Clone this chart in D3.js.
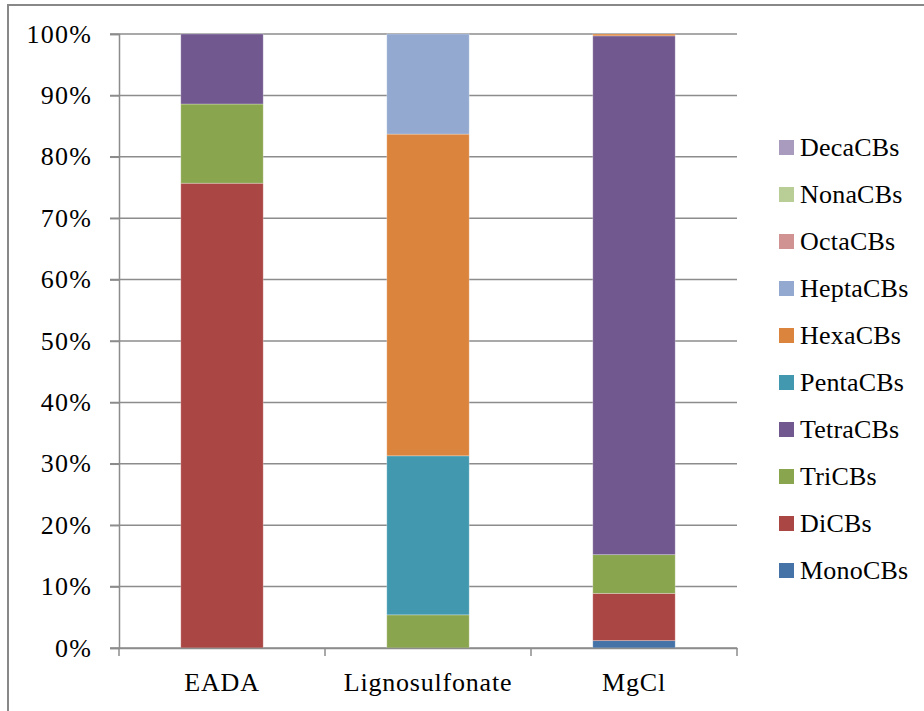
<!DOCTYPE html>
<html><head><meta charset="utf-8">
<script src="https://cdn.jsdelivr.net/npm/d3@7"></script>
<style>body{margin:0;background:#fff}svg{display:block}</style>
</head><body>
<svg id="c" width="924" height="711"></svg>
<script>
const categories = ["EADA", "Lignosulfonate", "MgCl"];
const seriesNames = ["MonoCBs","DiCBs","TriCBs","TetraCBs","PentaCBs","HexaCBs","HeptaCBs","OctaCBs","NonaCBs","DecaCBs"];
const seriesColors = ["#4572A7","#AA4643","#89A54E","#71588F","#4198AF","#DB843D","#93A9CF","#D19392","#B9CD96","#A99BBD"];
// percent values per series, in category order
const MonoCBs  = [0, 0, 1.2];
const DiCBs    = [75.7, 0, 7.7];
const TriCBs   = [12.9, 5.4, 6.3];
const TetraCBs = [11.4, 0, 84.5];
const PentaCBs = [0, 25.9, 0];
const HexaCBs  = [0, 52.4, 0.3];
const HeptaCBs = [0, 16.3, 0];
const OctaCBs  = [0, 0, 0];
const NonaCBs  = [0, 0, 0];
const DecaCBs  = [0, 0, 0];
const yTicks = [0,10,20,30,40,50,60,70,80,90,100];

const seriesValues = [MonoCBs,DiCBs,TriCBs,TetraCBs,PentaCBs,HexaCBs,HeptaCBs,OctaCBs,NonaCBs,DecaCBs];
const rows = categories.map((c,i)=>{const r={cat:c}; seriesNames.forEach((s,j)=>r[s]=seriesValues[j][i]); return r;});
const stacked = d3.stack().keys(seriesNames)(rows);

const svg = d3.select("#c");
const font = "'Liberation Serif', serif";
const pLeft=119, pRight=737, pTop=34, pBottom=648;

svg.append("rect").attr("x",8).attr("y",5).attr("width",930).attr("height",720)
  .attr("fill","none").attr("stroke","#888").attr("stroke-width",2);

const x = d3.scaleBand().domain(categories).range([pLeft,pRight]).padding(0);
const y = d3.scaleLinear().domain([0,100]).range([pBottom,pTop]);

// grid lines
svg.append("g").selectAll("line").data(yTicks).join("line")
  .attr("x1",pLeft-9).attr("x2",pRight).attr("y1",d=>y(d)).attr("y2",d=>y(d))
  .attr("stroke","#8c8c8c").attr("stroke-width",1.5);

// bars
const bw = x.bandwidth()*0.4;
svg.append("g").selectAll("g").data(stacked).join("g")
  .attr("fill",(d,i)=>seriesColors[i])
  .selectAll("rect").data(d=>d.filter(p=>p[1]-p[0]>0)).join("rect")
  .attr("x",d=>x(d.data.cat)+x.bandwidth()/2-bw/2)
  .attr("width",bw)
  .attr("y",d=>y(d[1]))
  .attr("height",d=>y(d[0])-y(d[1]))
  .attr("stroke","rgba(255,255,255,0.35)").attr("stroke-width",0.8);

// y axis
const yAxis = d3.axisLeft(y).tickValues(yTicks).tickFormat(d=>d+"%").tickSize(9).tickPadding(18);
const gy = svg.append("g").attr("transform",`translate(${pLeft},0)`).call(yAxis);
gy.select(".domain").attr("stroke","#8c8c8c").attr("stroke-width",1.5);
gy.selectAll(".tick line").attr("stroke","#8c8c8c").attr("stroke-width",1.5);
gy.selectAll("text").attr("font-family",font).attr("font-size",26).attr("fill","#000")
  .attr("letter-spacing",1.2).attr("dy","0.31em");

// x axis
const gx = svg.append("g").attr("transform",`translate(0,${pBottom})`)
  .call(d3.axisBottom(x).tickSize(0).tickPadding(24));
gx.select(".domain").attr("stroke","#8c8c8c").attr("stroke-width",1.5);
gx.selectAll("text").attr("font-family",font).attr("font-size",26).attr("fill","#000")
  .attr("letter-spacing",0.8).attr("y",43).attr("dy",0);
svg.append("g").selectAll("line").data([0,1,2,3]).join("line")
  .attr("x1",i=>pLeft+i*x.step()).attr("x2",i=>pLeft+i*x.step())
  .attr("y1",pBottom).attr("y2",pBottom+8).attr("stroke","#8c8c8c").attr("stroke-width",1.5);

// legend
const legOrder = seriesNames.map((s,i)=>({s,c:seriesColors[i]})).reverse();
const lg = svg.append("g").selectAll("g").data(legOrder).join("g")
  .attr("transform",(d,i)=>`translate(779,${148+i*47})`);
lg.append("rect").attr("x",0).attr("y",-8).attr("width",15).attr("height",15).attr("fill",d=>d.c);
lg.append("text").attr("x",21).attr("y",8).text(d=>d.s)
  .attr("font-family",font).attr("font-size",26).attr("fill","#000").attr("letter-spacing",0.2);
</script>
</body></html>
